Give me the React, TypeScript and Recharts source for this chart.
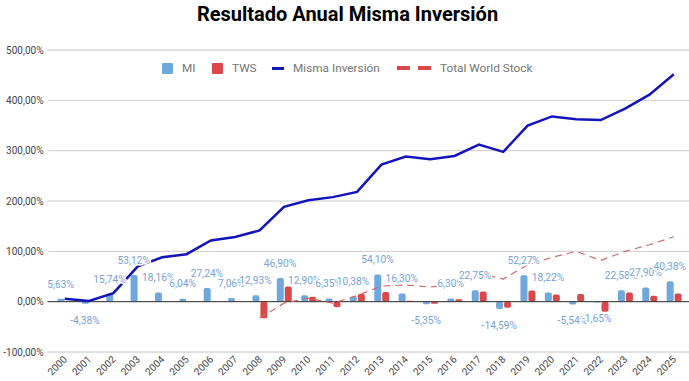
import React from 'react';
import {
  ComposedChart,
  Bar,
  Line,
  XAxis,
  YAxis,
  CartesianGrid,
  ReferenceLine,
  LabelList,
} from 'recharts';

// years on the x axis
const years = [
  '2000', '2001', '2002', '2003', '2004', '2005', '2006', '2007', '2008', '2009',
  '2010', '2011', '2012', '2013', '2014', '2015', '2016', '2017', '2018', '2019',
  '2020', '2021', '2022', '2023', '2024', '2025',
];

// annual return MI (%)
const miAnnual = [
  5.63, -4.38, 15.74, 53.12, 18.16, 6.04, 27.24, 7.06, 12.93, 46.9,
  12.9, 6.35, 10.38, 54.1, 16.3, -5.35, 6.3, 22.75, -14.59, 52.27,
  18.22, -5.54, -1.65, 22.58, 27.9, 40.38,
];

// annual return Total World Stock (%), no data before 2008
const twsAnnual = [
  null, null, null, null, null, null, null, null, -33, 30,
  10, -11, 15, 19, 2, -4, 5, 20, -12, 22,
  14, 15, -20, 18, 12, 16,
];

// accumulated MI (%)
const miAccum = [
  5.63, 1.25, 16.99, 70.11, 88.27, 94.31, 121.55, 128.61, 141.54, 188.44,
  201.34, 207.69, 218.07, 272.17, 288.47, 283.12, 289.42, 312.17, 297.58, 349.85,
  368.07, 362.53, 360.88, 383.46, 411.36, 451.74,
];

// accumulated Total World Stock (%)
const twsAccum = [
  null, null, null, null, null, null, null, null, -33, -3,
  7, -3, 12, 31, 33, 29, 34, 56, 45, 73,
  88, 100, 82, 100, 113, 129,
];

const yTicks = [-100, 0, 100, 200, 300, 400, 500];
const yMinorTicks = [-100, -50, 0, 50, 100, 150, 200, 250, 300, 350, 400, 450, 500];

const data = years.map((year, i) => ({
  year,
  mi: miAnnual[i],
  tws: twsAnnual[i],
  miAcc: miAccum[i],
  twsAcc: twsAccum[i],
}));

const FONT = 'Roboto, sans-serif';
const BLUE = '#6fa8dc';
const RED = '#d9484a';
const LINE_BLUE = '#1414bd';
const DASH_RED = '#cf6a6a';

const pct = (v: number) => v.toFixed(2).replace('.', ',') + '%';

const YTick = ({ x, y, payload }: any) => (
  <text
    x={x}
    y={y}
    textAnchor="end"
    dy="0.35em"
    fontSize={10}
    fontFamily={FONT}
    fill="#444"
  >
    {pct(payload.value)}
  </text>
);

const XTick = ({ x, y, payload }: any) => (
  <text
    transform={`translate(${x + 3},${y}) rotate(-45)`}
    textAnchor="end"
    fontSize={10}
    fontFamily={FONT}
    fill="#444"
  >
    {payload.value}
  </text>
);

const MiLabel = ({ x, y, value }: any) => {
  if (value == null) return null;
  const cy = value >= 0 ? y - 15 : y + 16;
  return (
    <text
      transform={`translate(${x - 4},${cy}) scale(0.93,1)`}
      textAnchor="middle"
      dy="0.35em"
      fontSize={11}
      fontFamily={FONT}
      fill="#76a3d6"
      stroke="#fff"
      strokeWidth={3}
      strokeLinejoin="round"
      paintOrder="stroke"
    >
      {pct(value)}
    </text>
  );
};

const legendText: React.CSSProperties = {
  position: 'absolute',
  top: 60,
  lineHeight: '16px',
  fontSize: 11.8,
  color: '#757575',
  fontFamily: FONT,
  whiteSpace: 'nowrap',
};

function Legend() {
  return (
    <>
      <div style={{ position: 'absolute', left: 162, top: 62.5, width: 11, height: 11, background: BLUE, borderRadius: 1 }} />
      <div style={{ ...legendText, left: 182 }}>MI</div>
      <div style={{ position: 'absolute', left: 211.5, top: 62.5, width: 11, height: 11, background: RED, borderRadius: 1 }} />
      <div style={{ ...legendText, left: 232 }}>TWS</div>
      <div style={{ position: 'absolute', left: 272, top: 66.5, width: 12, height: 3.5, background: LINE_BLUE }} />
      <div style={{ ...legendText, left: 293 }}>Misma Inversión</div>
      <div style={{ position: 'absolute', left: 397, top: 65.5, width: 13, height: 4.5, background: RED }} />
      <div style={{ position: 'absolute', left: 418, top: 65.5, width: 13, height: 4.5, background: RED }} />
      <div style={{ ...legendText, left: 440 }}>Total World Stock</div>
    </>
  );
}

export default function App() {
  return (
    <div style={{ position: 'absolute', left: 0, top: 0, width: 689, height: 381, background: '#fff', overflow: 'hidden' }}>
      <div
        style={{
          position: 'absolute',
          top: 2,
          left: 6,
          width: 683,
          textAlign: 'center',
          lineHeight: '24px',
          fontFamily: FONT,
          fontWeight: 700,
          fontSize: 20,
          color: '#000',
        }}
      >
        Resultado Anual Misma Inversión
      </div>
      <ComposedChart
        width={689}
        height={381}
        data={data}
        margin={{ top: 50, right: 0, bottom: 0, left: 0 }}
        barSize={7}
        barGap={1}
      >
        <CartesianGrid yAxisId="minor" vertical={false} stroke="#ebebeb" />
        <CartesianGrid yAxisId="main" vertical={false} stroke="#cccccc" />
        <XAxis
          dataKey="year"
          height={29}
          padding={{ left: 5, right: 3 }}
          tickLine={false}
          axisLine={false}
          interval={0}
          tick={<XTick />}
        />
        <YAxis
          yAxisId="main"
          width={47.5}
          domain={[-100, 500]}
          ticks={yTicks}
          tickLine={false}
          axisLine={false}
          tickSize={0}
          tickMargin={4}
          tick={<YTick />}
        />
        <YAxis yAxisId="minor" hide domain={[-100, 500]} ticks={yMinorTicks} />
        <ReferenceLine yAxisId="main" y={0} stroke="#333" strokeWidth={1} />
        <Bar yAxisId="main" dataKey="mi" fill={BLUE} radius={2} isAnimationActive={false} />
        <Bar yAxisId="main" dataKey="tws" fill={RED} radius={2} isAnimationActive={false} />
        <Line
          yAxisId="main"
          type="linear"
          dataKey="twsAcc"
          stroke={DASH_RED}
          strokeWidth={1.2}
          strokeDasharray="7 5"
          dot={false}
          isAnimationActive={false}
        />
        <Line
          yAxisId="main"
          type="linear"
          dataKey="miAcc"
          stroke={LINE_BLUE}
          strokeWidth={2.5}
          dot={false}
          isAnimationActive={false}
        />
        <Line
          yAxisId="main"
          type="linear"
          dataKey="mi"
          stroke="none"
          dot={false}
          activeDot={false}
          legendType="none"
          isAnimationActive={false}
        >
          <LabelList dataKey="mi" content={<MiLabel />} />
        </Line>
      </ComposedChart>
      <Legend />
    </div>
  );
}
